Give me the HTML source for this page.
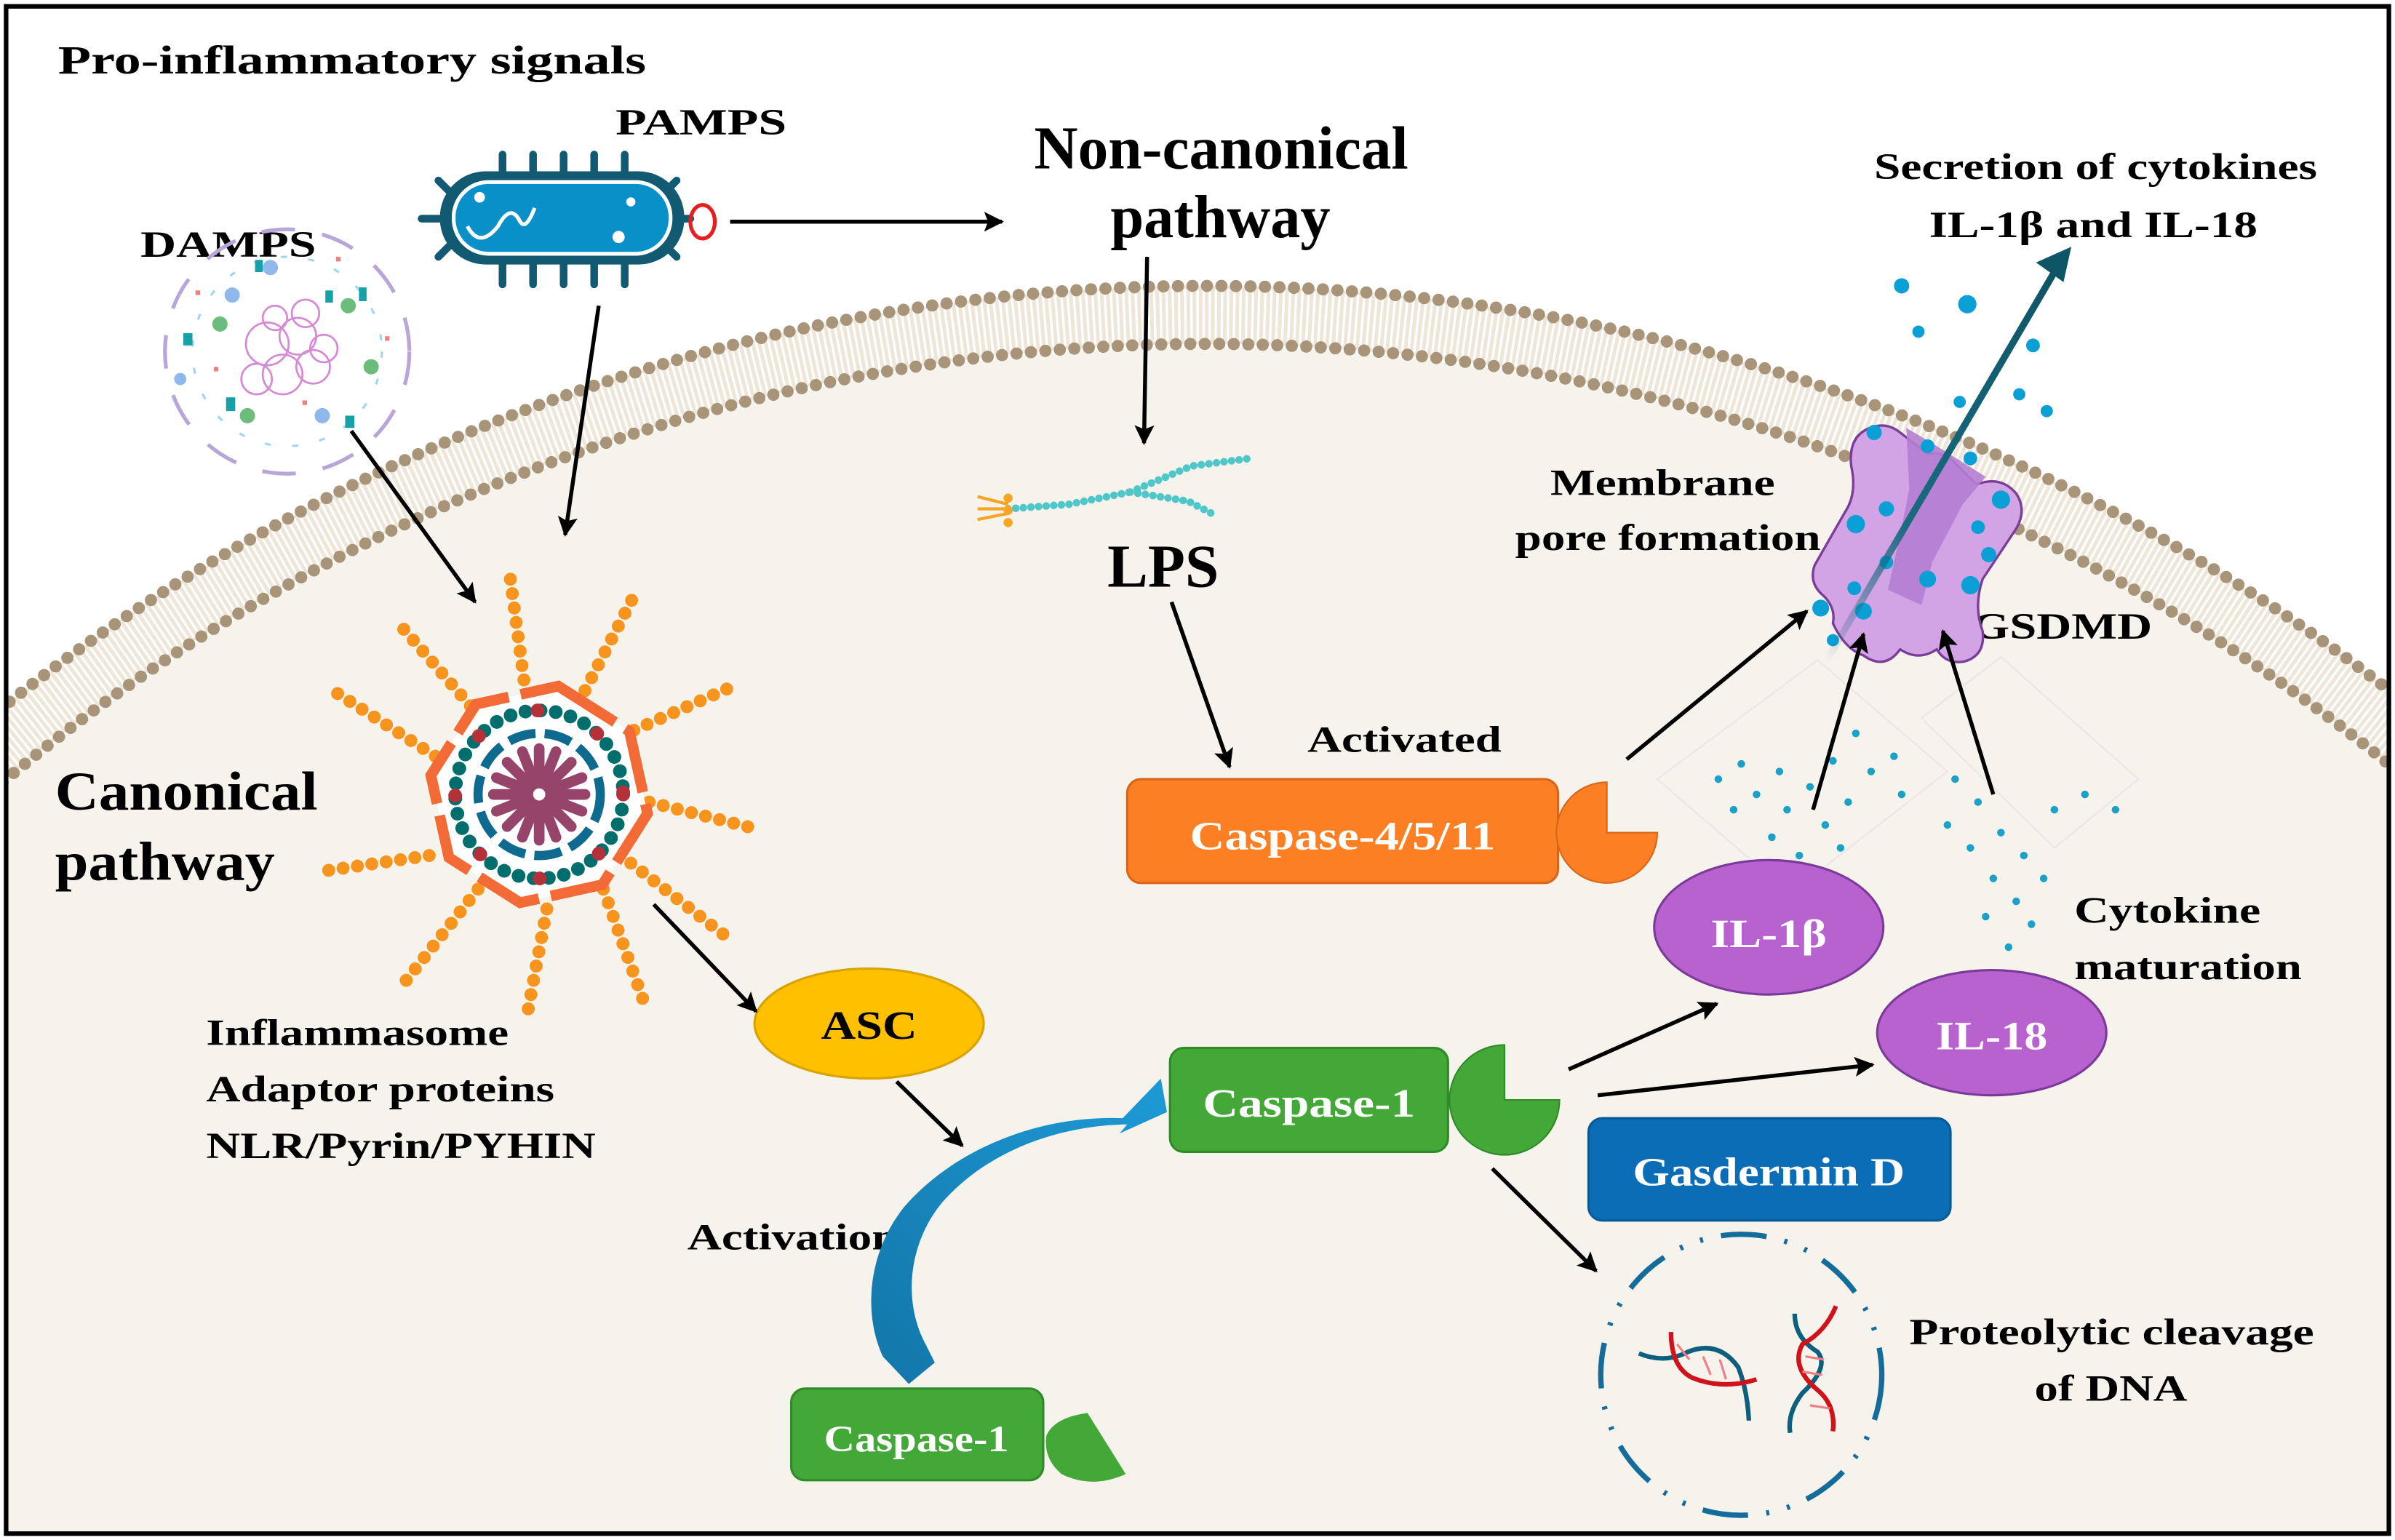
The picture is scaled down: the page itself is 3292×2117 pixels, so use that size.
<!DOCTYPE html>
<html><head><meta charset="utf-8"><style>
html,body{margin:0;padding:0;background:#fff;width:3292px;height:2117px;overflow:hidden;}
svg{display:block;}
text{font-family:"Liberation Serif","DejaVu Serif",serif;font-weight:bold;}
</style></head><body>
<svg width="3292" height="2117" viewBox="0 0 1568 1008" xmlns="http://www.w3.org/2000/svg">
<defs>
<marker id="ah" viewBox="0 0 10 10" refX="9" refY="5" markerWidth="5" markerHeight="5" orient="auto"><path d="M0,0 L10,5 L0,10 L2,5 z" fill="#000"/></marker>
<clipPath id="frame"><rect x="5" y="5" width="1558" height="998"/></clipPath>
<linearGradient id="tl" x1="0" y1="1" x2="1" y2="0"><stop offset="0" stop-color="#1a6a80" stop-opacity="0"/><stop offset="0.35" stop-color="#1a6a80"/><stop offset="1" stop-color="#0e5566"/></linearGradient>
<linearGradient id="bl" x1="0" y1="1" x2="1" y2="0"><stop offset="0" stop-color="#1276a8"/><stop offset="1" stop-color="#1e9ad6"/></linearGradient>
</defs>
<rect x="0" y="0" width="1568" height="1008" fill="#fff"/>
<g clip-path="url(#frame)">
<circle cx="790" cy="1451" r="1224" fill="#f6f2ec"/>
<circle cx="790" cy="1451" r="1245" fill="none" stroke="#efe6da" stroke-width="38"/>
<circle cx="790" cy="1451" r="1245" fill="none" stroke="#fff" stroke-width="34" stroke-dasharray="1.6 2.4"/>
<circle cx="790" cy="1451" r="1264" fill="none" stroke="#a89478" stroke-width="8" stroke-dasharray="0 9.5" stroke-linecap="round"/>
<circle cx="790" cy="1451" r="1226" fill="none" stroke="#a89478" stroke-width="8" stroke-dasharray="0 9.5" stroke-linecap="round"/>
</g>
<rect x="4" y="4" width="1560" height="1000" fill="none" stroke="#000" stroke-width="3"/>

<text x="38" y="48" font-size="26" textLength="385" lengthAdjust="spacingAndGlyphs">Pro-inflammatory  signals</text>
<text x="403" y="88" font-size="24" textLength="112" lengthAdjust="spacingAndGlyphs">PAMPS</text>
<text x="92" y="168" font-size="24" textLength="115" lengthAdjust="spacingAndGlyphs">DAMPS</text>
<text x="677" y="110" font-size="40" textLength="245" lengthAdjust="spacingAndGlyphs">Non-canonical</text>
<text x="727" y="155" font-size="40" textLength="144" lengthAdjust="spacingAndGlyphs">pathway</text>
<text x="1227" y="117" font-size="24" textLength="290" lengthAdjust="spacingAndGlyphs">Secretion of cytokines</text>
<text x="1263" y="155" font-size="24" textLength="215" lengthAdjust="spacingAndGlyphs">IL-1β and IL-18</text>
<text x="1015" y="324" font-size="24" textLength="147" lengthAdjust="spacingAndGlyphs">Membrane</text>
<text x="992" y="360" font-size="24" textLength="200" lengthAdjust="spacingAndGlyphs">pore formation</text>
<text x="725" y="384" font-size="40" textLength="73" lengthAdjust="spacingAndGlyphs">LPS</text>
<text x="1291" y="418" font-size="24" textLength="118" lengthAdjust="spacingAndGlyphs">GSDMD</text>
<text x="856" y="492" font-size="24" textLength="127" lengthAdjust="spacingAndGlyphs">Activated</text>
<text x="36" y="530" font-size="36" textLength="172" lengthAdjust="spacingAndGlyphs">Canonical</text>
<text x="36" y="576" font-size="36" textLength="144" lengthAdjust="spacingAndGlyphs">pathway</text>
<text x="135" y="684" font-size="24" textLength="198" lengthAdjust="spacingAndGlyphs">Inflammasome</text>
<text x="135" y="721" font-size="24" textLength="228" lengthAdjust="spacingAndGlyphs">Adaptor proteins</text>
<text x="135" y="758" font-size="24" textLength="255" lengthAdjust="spacingAndGlyphs">NLR/Pyrin/PYHIN</text>
<text x="450" y="818" font-size="24" textLength="138" lengthAdjust="spacingAndGlyphs">Activation</text>
<text x="1358" y="604" font-size="24" textLength="122" lengthAdjust="spacingAndGlyphs">Cytokine</text>
<text x="1358" y="641" font-size="24" textLength="149" lengthAdjust="spacingAndGlyphs">maturation</text>
<text x="1250" y="880" font-size="24" textLength="265" lengthAdjust="spacingAndGlyphs">Proteolytic cleavage</text>
<text x="1332" y="917" font-size="24" textLength="100" lengthAdjust="spacingAndGlyphs">of DNA</text>

<!-- bacteria -->
<g stroke="#125a72" stroke-width="5" stroke-linecap="round">
<line x1="329" y1="101" x2="329" y2="186"/><line x1="349" y1="101" x2="349" y2="186"/><line x1="369" y1="101" x2="369" y2="186"/><line x1="389" y1="101" x2="389" y2="186"/><line x1="409" y1="101" x2="409" y2="186"/>
<line x1="276" y1="143" x2="290" y2="143"/><line x1="437" y1="143" x2="452" y2="143"/>
<line x1="287" y1="118" x2="297" y2="128"/><line x1="287" y1="168" x2="297" y2="158"/><line x1="443" y1="118" x2="433" y2="128"/><line x1="443" y1="168" x2="433" y2="158"/>
</g>
<rect x="288" y="112" width="160" height="61" rx="30" fill="#125a72"/>
<rect x="297" y="119" width="142" height="47" rx="23" fill="#0a90c9" stroke="#fff" stroke-width="2.5"/>
<path d="M306,148 q8,15 20,0 q8,-15 14,-4 q4,8 10,-8" fill="none" stroke="#fff" stroke-width="2.5"/>
<circle cx="314" cy="129" r="3.5" fill="#fff"/><circle cx="413" cy="132" r="3" fill="#fff"/><circle cx="405" cy="155" r="4" fill="#fff"/>
<ellipse cx="460" cy="145" rx="8" ry="11" fill="none" stroke="#e61e1e" stroke-width="2.5"/>

<!-- DAMPS cloud -->
<g>
<circle cx="188" cy="230" r="80" fill="none" stroke="#b8a6d8" stroke-width="2.5" stroke-dasharray="22 18"/>
<circle cx="188" cy="230" r="62" fill="none" stroke="#9fd8ee" stroke-width="1.5" stroke-dasharray="4 14"/>
<g fill="none" stroke="#d68ad6" stroke-width="1.3">
<circle cx="175" cy="225" r="14"/><circle cx="195" cy="220" r="12"/><circle cx="185" cy="245" r="13"/><circle cx="205" cy="240" r="11"/><circle cx="168" cy="248" r="10"/><circle cx="200" cy="205" r="9"/><circle cx="180" cy="208" r="8"/><circle cx="212" cy="228" r="9"/>
</g>
<g fill="#16a0a8"><rect x="120" y="218" width="6" height="8"/><rect x="235" y="188" width="5" height="9"/><rect x="213" y="190" width="5" height="8"/><rect x="148" y="260" width="6" height="9"/><rect x="226" y="272" width="6" height="8"/><rect x="167" y="170" width="5" height="8"/></g>
<g fill="#6cbd7c"><circle cx="144" cy="212" r="5"/><circle cx="228" cy="200" r="5"/><circle cx="243" cy="240" r="5"/><circle cx="162" cy="272" r="5"/></g>
<g fill="#8fb9ec"><circle cx="177" cy="175" r="5"/><circle cx="152" cy="193" r="5"/><circle cx="211" cy="272" r="5"/><circle cx="118" cy="248" r="4"/></g>
<g fill="#f08080"><rect x="128" y="190" width="3" height="3"/><rect x="220" y="168" width="3" height="3"/><rect x="252" y="220" width="3" height="3"/><rect x="140" y="240" width="3" height="3"/><rect x="198" y="262" width="3" height="3"/></g>
</g>

<!-- LPS -->
<g>
<path d="M660,333 L700,330 L740,322 M740,322 L780,305 L818,300 M740,322 L778,328 L797,338" fill="none" stroke="#4fc6c8" stroke-width="5" stroke-dasharray="0 5" stroke-linecap="round"/>
<g stroke="#f6a623" stroke-width="2" fill="none"><path d="M640,325 L660,330 M640,333 L660,333 M640,340 L660,336"/></g>
<circle cx="660" cy="326" r="3" fill="#f6a623"/><circle cx="660" cy="334" r="3" fill="#f6a623"/><circle cx="660" cy="342" r="3" fill="#f6a623"/>
</g>

<!-- Pore -->
<g>
<path d="M1200,408 q2,-10 -6,-18 q-10,-8 -6,-20 l20,-35 q8,-12 4,-30 q-2,-18 10,-24 q12,-6 22,2 l18,14 q10,-2 18,6 l14,14 q16,-6 26,6 q8,12 -2,26 l-20,30 q-6,18 0,34 q2,16 -12,20 q-12,2 -18,-8 q-12,8 -24,0 q-10,14 -24,4 q-12,-4 -20,-21z" fill="#d3a4e5" stroke="#7a3e98" stroke-width="1.6"/>
<path d="M1248,280 L1265,290 L1300,312 L1285,330 L1265,368 L1258,396 L1236,386 L1244,350 L1250,320 Z" fill="#b47ed0" opacity="0.9"/>
<g fill="#0aa0d6"><circle cx="1262" cy="292" r="4.5"/><circle cx="1235" cy="333" r="5"/><circle cx="1215" cy="343" r="6"/><circle cx="1290" cy="300" r="4.5"/><circle cx="1310" cy="327" r="6"/><circle cx="1295" cy="345" r="4.5"/><circle cx="1262" cy="379" r="5.5"/><circle cx="1290" cy="383" r="6"/><circle cx="1235" cy="368" r="4.5"/><circle cx="1302" cy="363" r="5"/><circle cx="1227" cy="283" r="5"/><circle cx="1245" cy="187" r="5"/><circle cx="1288" cy="199" r="6"/><circle cx="1256" cy="217" r="4"/><circle cx="1331" cy="226" r="4.5"/><circle cx="1283" cy="263" r="4"/><circle cx="1322" cy="258" r="4"/><circle cx="1340" cy="269" r="4"/><circle cx="1214" cy="385" r="4.5"/><circle cx="1192" cy="398" r="5.5"/><circle cx="1220" cy="400" r="5.5"/><circle cx="1200" cy="419" r="4"/></g>
<path d="M1196,432 L1345,178" stroke="url(#tl)" stroke-width="4.5"/>
<path d="M1354,164 L1336,172 L1350,182 Z" fill="#0e5566" stroke="#0e5566" stroke-width="3"/>
</g>

<!-- cytokine dot clouds -->
<g fill="none" stroke="#e8e8e8" stroke-width="1">
<path d="M1085,510 L1190,432 L1275,505 L1172,585 Z"/><path d="M1258,470 L1310,430 L1400,510 L1345,555 Z"/>
</g>
<g fill="#1ba1c7">
<circle cx="1125" cy="510" r="2.5"/><circle cx="1140" cy="500" r="2.5"/><circle cx="1150" cy="520" r="2.5"/><circle cx="1165" cy="505" r="2.5"/><circle cx="1170" cy="530" r="2.5"/><circle cx="1185" cy="515" r="2.5"/><circle cx="1200" cy="498" r="2.5"/><circle cx="1195" cy="540" r="2.5"/><circle cx="1210" cy="525" r="2.5"/><circle cx="1225" cy="505" r="2.5"/><circle cx="1160" cy="548" r="2.5"/><circle cx="1178" cy="560" r="2.5"/><circle cx="1205" cy="555" r="2.5"/><circle cx="1135" cy="530" r="2.5"/><circle cx="1245" cy="520" r="2.5"/><circle cx="1240" cy="495" r="2.5"/><circle cx="1215" cy="480" r="2.5"/>
<circle cx="1275" cy="540" r="2.5"/><circle cx="1295" cy="525" r="2.5"/><circle cx="1290" cy="555" r="2.5"/><circle cx="1310" cy="545" r="2.5"/><circle cx="1305" cy="575" r="2.5"/><circle cx="1325" cy="560" r="2.5"/><circle cx="1320" cy="590" r="2.5"/><circle cx="1338" cy="575" r="2.5"/><circle cx="1330" cy="605" r="2.5"/><circle cx="1315" cy="620" r="2.5"/><circle cx="1345" cy="530" r="2.5"/><circle cx="1365" cy="520" r="2.5"/><circle cx="1385" cy="530" r="2.5"/><circle cx="1300" cy="600" r="2.5"/><circle cx="1280" cy="510" r="2.5"/>
</g>

<!-- inflammasome -->
<g transform="translate(353,520)">
<g stroke="#f7941d" stroke-width="8.5" stroke-dasharray="0 9.5" stroke-linecap="round">
<line x1="-10" y1="-75" x2="-19" y2="-142"/>
<line x1="-45" y1="-58" x2="-92" y2="-112"/>
<line x1="30" y1="-68" x2="62" y2="-130"/>
<line x1="62" y1="-42" x2="125" y2="-70"/>
<line x1="72" y1="5" x2="140" y2="22"/>
<line x1="60" y1="45" x2="125" y2="95"/>
<line x1="42" y1="62" x2="70" y2="140"/>
<line x1="5" y1="75" x2="-8" y2="145"/>
<line x1="-40" y1="62" x2="-92" y2="128"/>
<line x1="-72" y1="40" x2="-140" y2="50"/>
<line x1="-68" y1="-25" x2="-135" y2="-68"/>
</g>
<polygon points="0,-72 51,-51 72,0 51,51 0,72 -51,51 -72,0 -51,-51" fill="#fff" stroke="#f26a35" stroke-width="7" stroke-dasharray="44 8" transform="rotate(10)"/>
<circle r="55" fill="none" stroke="#006e6d" stroke-width="9" stroke-dasharray="0 10" stroke-linecap="round"/>
<circle r="55" fill="none" stroke="#b5313a" stroke-width="9" stroke-dasharray="0 43" stroke-linecap="round"/>
<circle r="40" fill="none" stroke="#0f6a8f" stroke-width="6" stroke-dasharray="18 6"/>
<g stroke="#96446a" stroke-width="7" stroke-linecap="round">
<line x1="-30" y1="0" x2="30" y2="0"/><line x1="0" y1="-30" x2="0" y2="30"/><line x1="-21" y1="-21" x2="21" y2="21"/><line x1="-21" y1="21" x2="21" y2="-21"/>
<line x1="-28" y1="-11" x2="28" y2="11"/><line x1="-28" y1="11" x2="28" y2="-11"/><line x1="-11" y1="-28" x2="11" y2="28"/><line x1="11" y1="-28" x2="-11" y2="28"/>
</g>
<circle r="4" fill="#fff"/>
</g>

<!-- boxes -->
<rect x="738" y="510" width="282" height="68" rx="9" fill="#fd7f23" stroke="#d8661a" stroke-width="1.5"/>
<text x="879" y="556" font-size="26" fill="#fff" text-anchor="middle" textLength="200" lengthAdjust="spacingAndGlyphs">Caspase-4/5/11</text>
<path d="M1052,545 L1085,545 A33,33 0 1 1 1052,512 Z" fill="#fd7f23" stroke="#d8661a" stroke-width="1"/>

<ellipse cx="569" cy="670" rx="75" ry="36" fill="#ffc000" stroke="#d9a200" stroke-width="1.5"/>
<text x="569" y="680" font-size="26" text-anchor="middle" textLength="63" lengthAdjust="spacingAndGlyphs">ASC</text>

<rect x="766" y="686" width="182" height="68" rx="9" fill="#43a838" stroke="#2f8a27" stroke-width="1.5"/>
<text x="857" y="731" font-size="26" fill="#fff" text-anchor="middle" textLength="139" lengthAdjust="spacingAndGlyphs">Caspase-1</text>
<path d="M985,720 L1021,720 A36,36 0 1 1 985,684 Z" fill="#43a838" stroke="#2f8a27" stroke-width="1"/>

<rect x="518" y="909" width="165" height="60" rx="9" fill="#43a838" stroke="#2f8a27" stroke-width="1.5"/>
<text x="600" y="950" font-size="24" fill="#fff" text-anchor="middle" textLength="121" lengthAdjust="spacingAndGlyphs">Caspase-1</text>
<path d="M712,925 L737,965 Q715,975 695,965 Q683,955 685,940 Q690,928 712,925 Z" fill="#43a838"/>

<ellipse cx="1158" cy="607" rx="75" ry="44" fill="#b862cf" stroke="#7b3a9a" stroke-width="1.5"/>
<text x="1158" y="620" font-size="26" fill="#fff" text-anchor="middle" textLength="76" lengthAdjust="spacingAndGlyphs">IL-1β</text>
<ellipse cx="1304" cy="676" rx="75" ry="41" fill="#b862cf" stroke="#7b3a9a" stroke-width="1.5"/>
<text x="1304" y="687" font-size="26" fill="#fff" text-anchor="middle" textLength="73" lengthAdjust="spacingAndGlyphs">IL-18</text>

<rect x="1040" y="732" width="237" height="67" rx="9" fill="#0a6db5" stroke="#085a95" stroke-width="1.5"/>
<text x="1158" y="776" font-size="26" fill="#fff" text-anchor="middle" textLength="178" lengthAdjust="spacingAndGlyphs">Gasdermin D</text>

<!-- DNA -->
<circle cx="1140" cy="900" r="92" fill="none" stroke="#136c9a" stroke-width="3.5" stroke-dasharray="30 12 2 12 2 12"/>
<g fill="none" stroke-width="3">
<path d="M1073,886 Q1090,893 1105,885 Q1125,877 1138,895 Q1144,910 1145,930" stroke="#0d5f7e"/>
<path d="M1094,872 Q1094,895 1108,902 Q1128,910 1150,903" stroke="#d0121b"/>
<path d="M1175,860 Q1175,876 1190,885 Q1198,895 1180,912 Q1170,925 1172,938" stroke="#0d5f7e"/>
<path d="M1202,855 Q1195,872 1180,880 Q1172,895 1190,910 Q1202,920 1200,937" stroke="#d0121b"/>
</g>
<g stroke="#f07e86" stroke-width="1.5"><line x1="1098" y1="880" x2="1106" y2="890"/><line x1="1115" y1="888" x2="1120" y2="900"/><line x1="1126" y1="890" x2="1130" y2="903"/><line x1="1182" y1="888" x2="1194" y2="890"/><line x1="1180" y1="898" x2="1193" y2="900"/><line x1="1185" y1="920" x2="1198" y2="922"/></g>

<!-- blue curved arrow -->
<path d="M595,906 L578,888 C565,860 568,820 592,790 C625,752 680,730 735,732 L760,706 L764,728 L733,742 L738,736 C690,737 645,755 617,787 C596,812 590,850 606,880 L612,892 Z" fill="url(#bl)"/>

<!-- arrows -->
<g stroke="#000" stroke-width="2.6" fill="none" marker-end="url(#ah)">
<line x1="478" y1="145" x2="656" y2="145"/>
<line x1="751" y1="168" x2="749" y2="290"/>
<line x1="392" y1="200" x2="370" y2="350"/>
<line x1="230" y1="282" x2="311" y2="394"/>
<line x1="767" y1="394" x2="805" y2="502"/>
<line x1="1065" y1="497" x2="1183" y2="400"/>
<line x1="1187" y1="530" x2="1220" y2="415"/>
<line x1="1305" y1="520" x2="1272" y2="413"/>
<line x1="428" y1="592" x2="495" y2="662"/>
<line x1="587" y1="708" x2="630" y2="750"/>
<line x1="1027" y1="700" x2="1124" y2="657"/>
<line x1="1046" y1="717" x2="1226" y2="697"/>
<line x1="977" y1="765" x2="1045" y2="832"/>
</g>
</svg>
</body></html>
